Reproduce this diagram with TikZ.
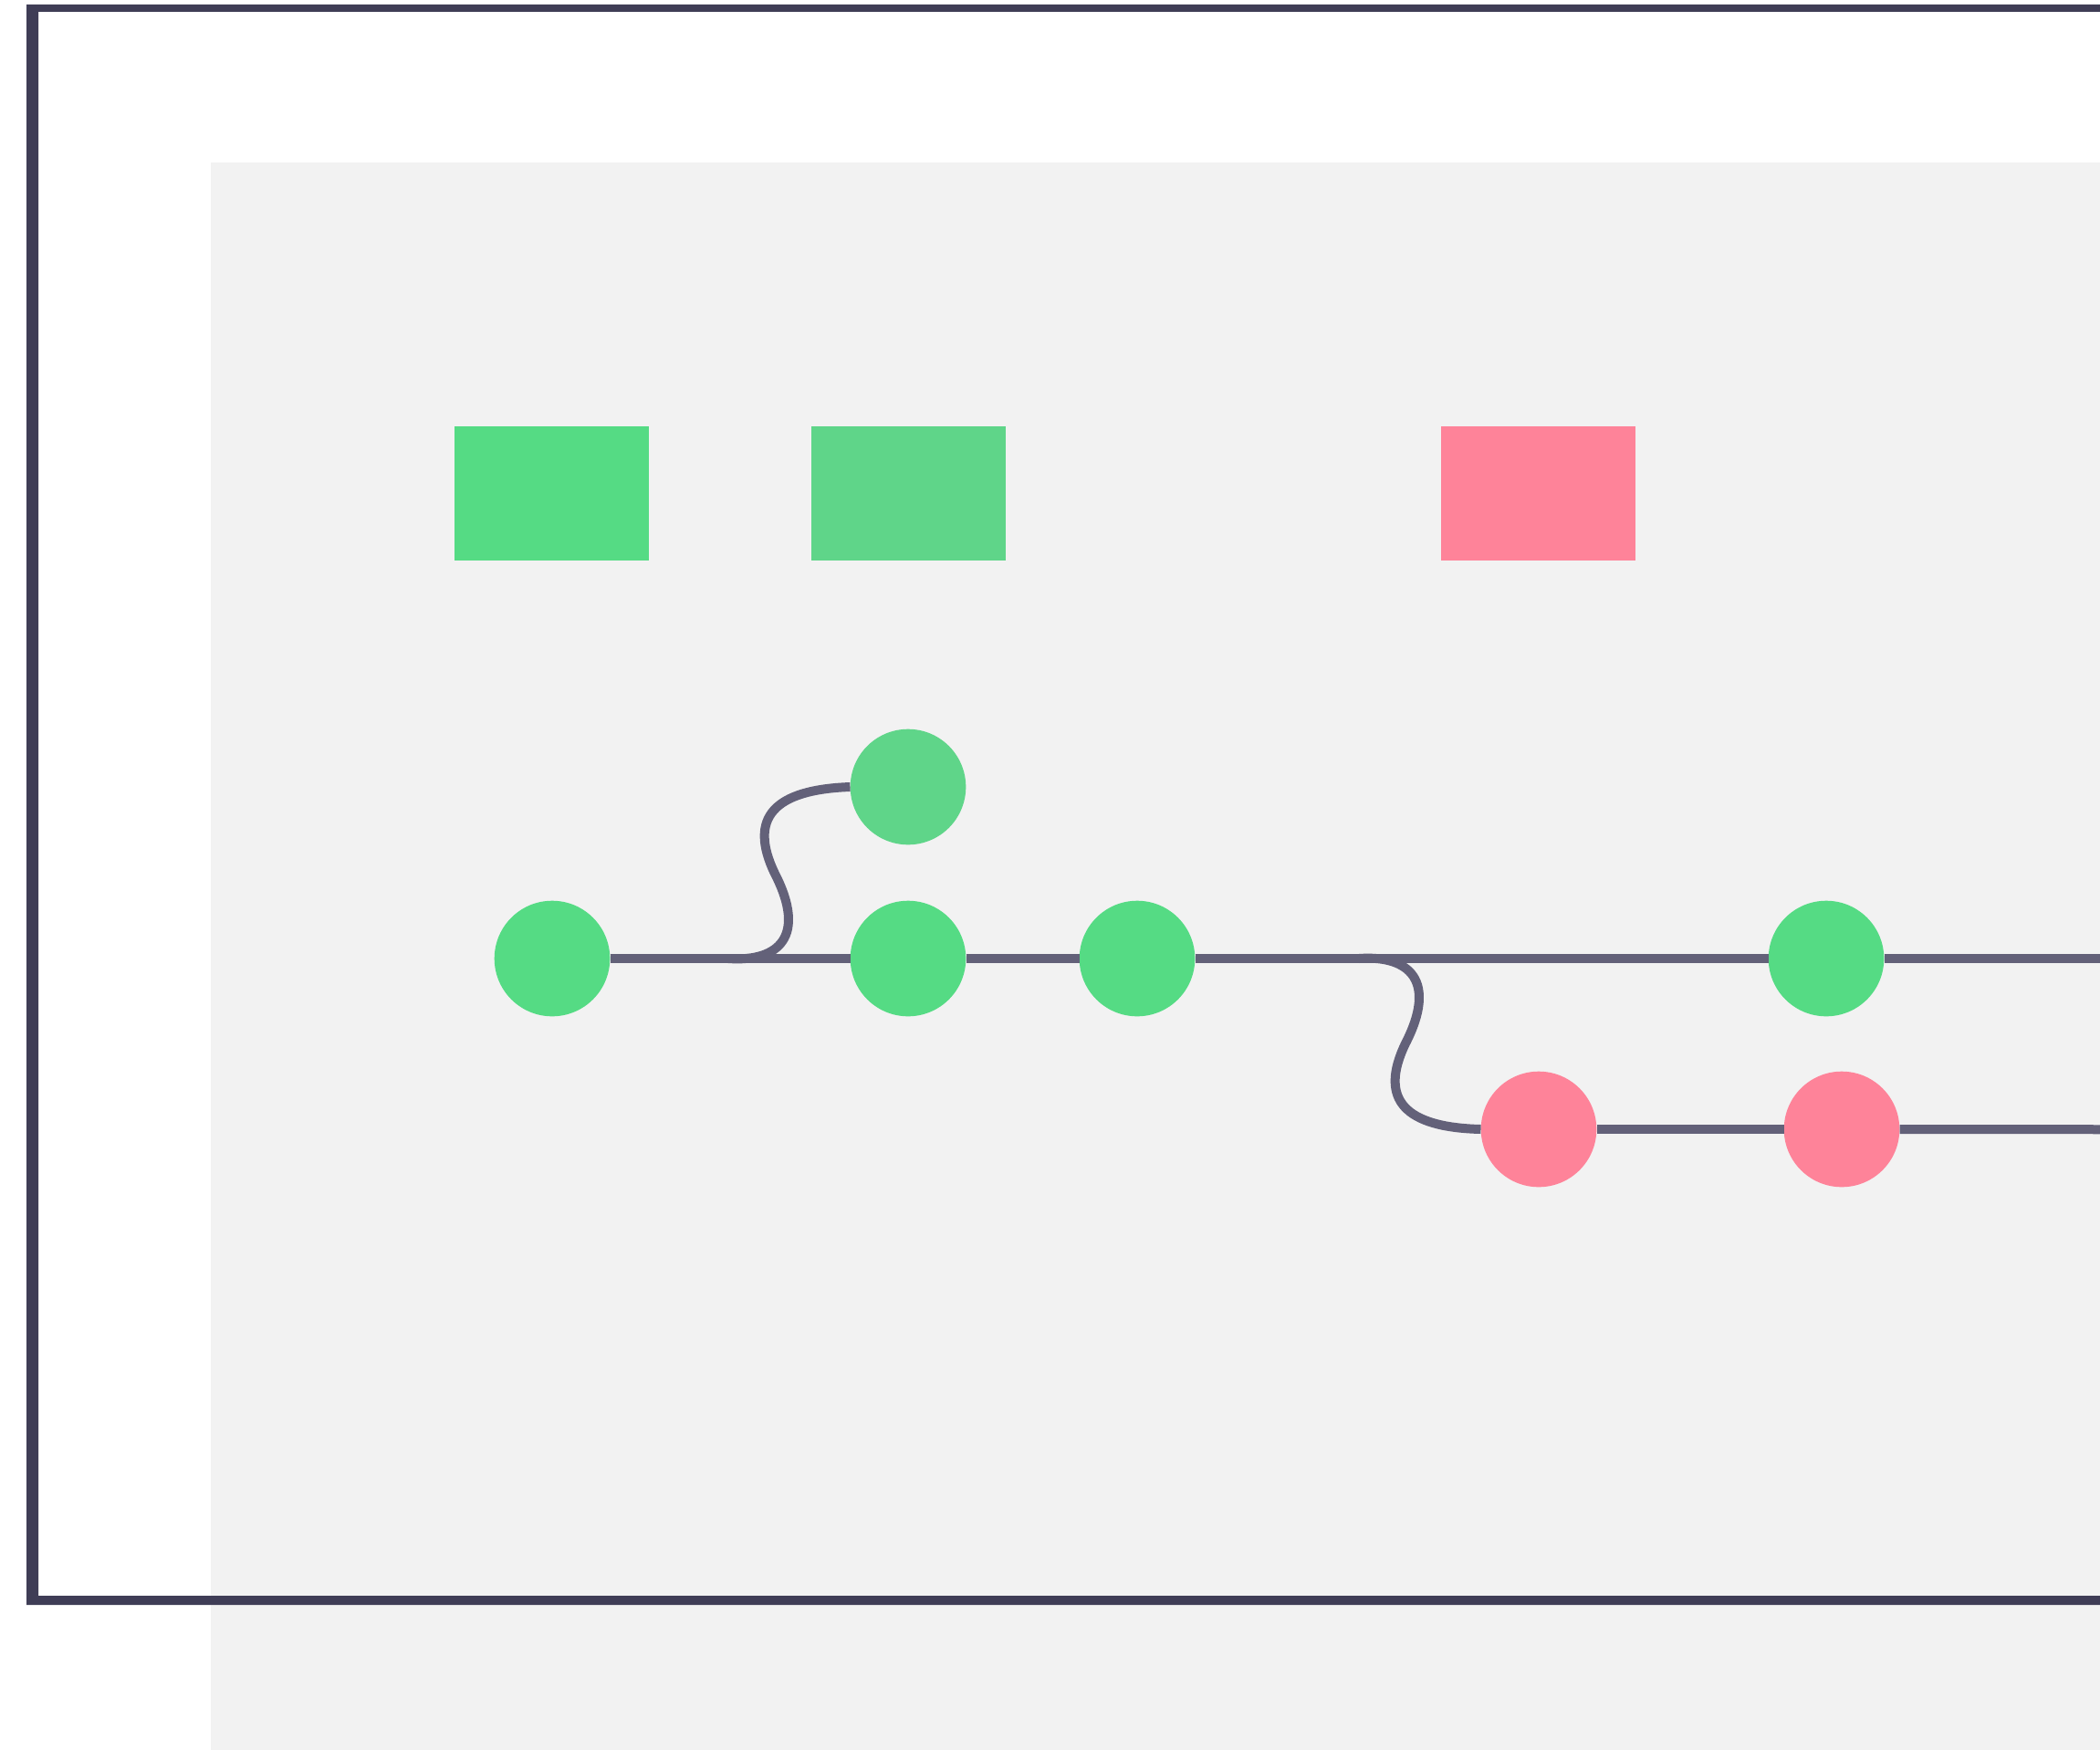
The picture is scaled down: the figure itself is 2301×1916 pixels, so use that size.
\documentclass[tikz,border=0pt]{standalone}
\definecolor{framec}{HTML}{3F3D56}
\definecolor{linec}{HTML}{636179}
\definecolor{bgc}{HTML}{F2F2F2}
\definecolor{greena}{HTML}{55DB84}
\definecolor{greenb}{HTML}{5FD589}
\definecolor{pinkc}{HTML}{FE8399}
\tikzset{
  commit/.style={circle, minimum size=126.6pt, inner sep=0pt, draw=none},
  tag/.style={rectangle, minimum width=213pt, minimum height=147pt, inner sep=0pt, draw=none},
  branch/.style={draw=linec, line width=10pt},
}
\begin{document}
\begin{tikzpicture}[x=1pt,y=-1pt]
\useasboundingbox (0,0) rectangle (2301,1916);
\clip (0,0) rectangle (2301,1916);
\fill[white] (0,0) rectangle (2301,1916);
% grey background
\fill[bgc] (231,178) rectangle (2320,1930);
% frame
\fill[framec, even odd rule] (29,5) rectangle (2330,1758) (42,13) rectangle (2320,1748);
% tags
\node[tag, fill=greena] (t1) at (604.5,540.5) {};
\node[tag, fill=greenb] (t2) at (995.5,540.5) {};
\node[tag, fill=pinkc] (t3) at (1685.5,540.5) {};
% commits
\node[commit, fill=greena] (c1) at (605,1050) {};
\node[commit, fill=greenb] (c2) at (995,862) {};
\node[commit, fill=greena] (c3) at (995,1050) {};
\node[commit, fill=greena] (c4) at (1246,1050) {};
\node[commit, fill=greena] (c5) at (2001,1050) {};
\node[commit, fill=pinkc] (p1) at (1686,1237) {};
\node[commit, fill=pinkc] (p2) at (2018,1237) {};
\coordinate (m1) at (798,1050);
\coordinate (m2) at (1489,1050);
\coordinate (m3) at (2289,1237);
\coordinate (eR) at (2340,1050);
% main line
\draw[branch] (c1) -- (c3);
\draw[branch] (c3) -- (c4);
\draw[branch] (c4) -- (c5);
\draw[branch] (c5) -- (eR);
% branch off upward
\draw[branch] (m1) .. controls (854,1054) and (884,1025) .. (849,957)
  .. controls (819,895) and (849,865) .. (c2.west);
% branch off downward
\draw[branch] (m2) .. controls (1545,1046) and (1575,1075) .. (1540,1143)
  .. controls (1510,1205) and (1540,1235) .. (p1.west);
% pink line
\draw[branch] (p1) -- (p2);
\draw[branch] (p2) -- (m3) .. controls (2345,1241) and (2375,1212) .. (2340,1144);
\end{tikzpicture}
\end{document}
